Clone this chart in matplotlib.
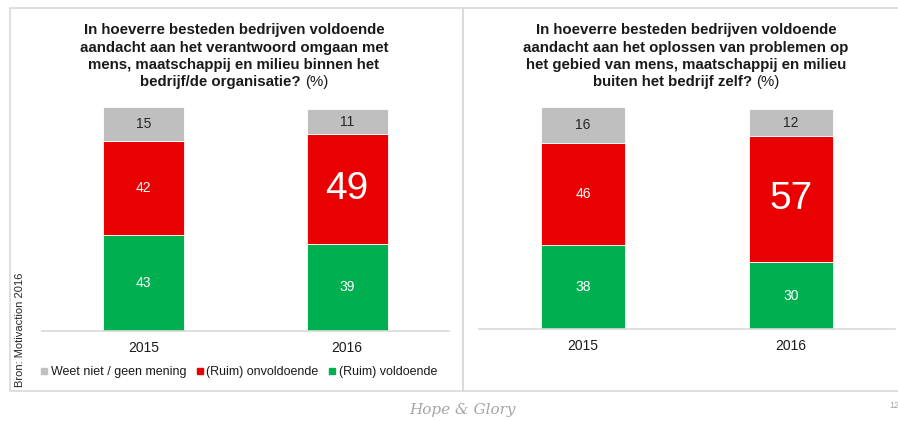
import matplotlib.pyplot as plt
from matplotlib.lines import Line2D
from matplotlib.patches import Rectangle

plt.rcParams['font.family'] = ['Liberation Sans', 'DejaVu Sans']

years = ['2015', '2016']
series = ['(Ruim) voldoende', '(Ruim) onvoldoende', 'Weet niet / geen mening']
colors = ['#00B050', '#E90000', '#BFBFBF']
label_colors = ['white', 'white', '#262626']

left_values = [[43, 39], [42, 49], [15, 11]]
right_values = [[38, 30], [46, 57], [16, 12]]

left_title = ['In hoeverre besteden bedrijven voldoende',
              'aandacht aan het verantwoord omgaan met',
              'mens, maatschappij en milieu binnen het',
              'bedrijf/de organisatie?']
right_title = ['In hoeverre besteden bedrijven voldoende',
               'aandacht aan het oplossen van problemen op',
               'het gebied van mens, maatschappij en milieu',
               'buiten het bedrijf zelf?']

W, H = 898, 421
fig = plt.figure(figsize=(W / 100, H / 100), dpi=100)


def px_axes(x0, x1, ytop, ybot):
    return fig.add_axes([x0 / W, (H - ybot) / H, (x1 - x0) / W, (ybot - ytop) / H])


def draw_stack(ax, values, big_index):
    bottoms = [0, 0]
    for s, vals in enumerate(values):
        bars = ax.bar(years, vals, bottom=bottoms, width=0.4, color=colors[s],
                      edgecolor='white', linewidth=0.6)
        for i, b in enumerate(bars):
            size = 28 if (s == 1 and i == big_index) else 10
            ax.text(b.get_x() + b.get_width() / 2, bottoms[i] + vals[i] / 2, str(vals[i]),
                    ha='center', va='center', color=label_colors[s], fontsize=size)
        bottoms = [bottoms[i] + vals[i] for i in range(2)]
    ax.set_xlim(-0.5, 1.5)
    ax.set_ylim(0, 100)
    for sp in ['left', 'right', 'top']:
        ax.spines[sp].set_visible(False)
    ax.spines['bottom'].set_color('#D9D9D9')
    ax.spines['bottom'].set_linewidth(1.2)
    ax.set_yticks([])
    ax.tick_params(axis='x', length=0, pad=7, labelsize=10, labelcolor='#1a1a1a')


ax1 = px_axes(42, 449, 107, 331)
draw_stack(ax1, left_values, 1)
ax2 = px_axes(479, 895, 107, 329)
draw_stack(ax2, right_values, 1)

# panel borders
for x0, x1 in [(10, 463), (463, 905)]:
    fig.patches.append(Rectangle((x0 / W, (H - 391) / H), (x1 - x0) / W, 383 / H,
                                 transform=fig.transFigure, fill=False,
                                 edgecolor='#D9D9D9', linewidth=1.2))


def draw_title(lines, cx, ys):
    for line, y in zip(lines[:-1], ys[:-1]):
        fig.text(cx / W, 1 - y / H, line, ha='center', va='center',
                 fontsize=10.8, fontweight='bold', color='#1a1a1a')
    # last line: bold part + normal "(%)"
    r = fig.canvas.get_renderer()
    t1 = fig.text(0, 1 - ys[-1] / H, lines[-1] + ' ', ha='left', va='center',
                  fontsize=10.8, fontweight='bold', color='#1a1a1a')
    t2 = fig.text(0, 1 - ys[-1] / H, '(%)', ha='left', va='center',
                  fontsize=10.8, color='#1a1a1a')
    w1 = t1.get_window_extent(r).width
    w2 = t2.get_window_extent(r).width
    start = cx - (w1 + w2) / 2
    t1.set_x(start / W)
    t2.set_x((start + w1) / W)


draw_title(left_title, 234, [30, 48, 65, 82])
draw_title(right_title, 686, [30, 48, 65, 82])

# legend
handles = [Line2D([], [], marker='s', linestyle='none', markersize=4.5,
                  color=colors[i]) for i in [2, 1, 0]]
fig.legend(handles, [series[i] for i in [2, 1, 0]], loc='center',
           bbox_to_anchor=(239 / W, 1 - 372 / H), ncol=3, frameon=False,
           fontsize=9, handlelength=0.5, handletextpad=0.3, columnspacing=0.8,
           labelcolor='#1a1a1a')

fig.text(20 / W, 1 - 330 / H, 'Bron: Motivaction 2016', rotation=90,
         ha='center', va='center', fontsize=8, color='#262626')

fig.text(462 / W, 1 - 410 / H, 'Hope & Glory', ha='center', va='center',
         fontsize=11, family='DejaVu Serif', style='italic', color='#A6A6A6')
fig.text(889 / W, 1 - 405 / H, '12', ha='left', va='center', fontsize=6.5,
         color='#A6A6A6')

fig.savefig('out.png', dpi=100)
